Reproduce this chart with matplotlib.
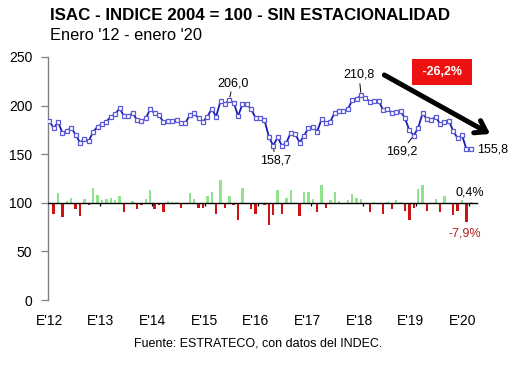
import numpy as np
import matplotlib
matplotlib.use("Agg")
import matplotlib.pyplot as plt

plt.rcParams['font.family'] = ['Liberation Sans', 'DejaVu Sans']

# ISAC index (2004=100), seasonally adjusted, Jan 2012 - Jan 2020 (monthly)
isac = [184.3, 176.7, 183.0, 172.0, 174.0, 177.4, 170.0, 162.0, 165.4, 163.7, 173.0, 178.4,
        180.8, 183.5, 188.7, 191.0, 197.3, 189.4, 189.4, 192.0, 185.3, 184.0, 187.0, 196.6,
        192.0, 190.0, 183.0, 184.3, 184.5, 185.3, 182.0, 182.0, 190.4, 192.0, 187.0, 183.6,
        188.7, 196.6, 188.7, 204.8, 201.4, 206.0, 203.0, 189.4, 201.4, 201.4, 196.3, 187.0,
        187.0, 185.3, 168.0, 158.7, 167.5, 158.5, 162.0, 172.0, 171.0, 162.0, 168.8, 176.7,
        178.4, 173.3, 186.0, 182.5, 183.5, 192.8, 194.9, 194.9, 196.3, 205.9, 207.0, 210.8,
        208.0, 204.0, 205.0, 205.0, 195.6, 197.0, 192.0, 193.5, 194.0, 187.0, 174.5, 169.2,
        177.0, 192.0, 186.0, 185.2, 188.6, 181.0, 183.5, 184.5, 173.5, 166.5, 169.3, 155.2,
        155.8]

# Monthly % change (bars, drawn around the 100 line)
var_pct = [np.nan, -4.8, 4.1, -5.8, 0.7, 1.8, -2.7, -5.5, 1.6, -1.1, 5.9, 3.3,
           1.0, 1.6, 2.0, 1.3, 2.7, -3.7, 0.1, 0.8, -2.7, -1.0, 1.4, 5.2,
           -2.5, -1.0, -3.8, 0.7, 0.2, 0.5, -2.0, 0.1, 4.1, 1.4, -2.0, -2.0,
           3.0, 4.5, -4.8, 9.2, -2.0, 2.7, -1.1, -7.1, 6.2, 0.1, -2.5, -4.8,
           -0.3, -0.7, -9.2, -5.1, 5.2, -4.5, 2.0, 5.2, -0.2, -5.3, 4.4, 4.4,
           1.4, -3.7, 7.3, -2.3, 1.1, 4.4, 0.8, 0.1, 1.2, 3.8, 2.0, 1.4,
           -0.3, -3.7, 0.4, 0.1, -4.5, 0.5, -2.5, 1.0, 0.3, -3.4, -7.1, -2.0,
           5.8, 7.3, -3.4, -0.2, 1.4, -3.7, 3.0, 0.1, -5.0, -3.4, 1.0, -7.9,
           0.4]

year_labels = ["E'12", "E'13", "E'14", "E'15", "E'16", "E'17", "E'18", "E'19", "E'20"]
y_ticks = [0, 50, 100, 150, 200, 250]

BAR_SCALE = 2.5
BASE = 100

x = np.arange(len(isac))
pct = np.array(var_pct, dtype=float)

fig = plt.figure(figsize=(5.30, 3.82), dpi=100)
ax = fig.add_axes([47.5 / 530, 82 / 382, 447.5 / 530, 243 / 382])

# bars
bar_h = pct * BAR_SCALE
colors = ['#8fe38f' if v >= 0 else '#cc1414' for v in np.nan_to_num(pct)]
ax.bar(x, np.nan_to_num(bar_h), bottom=BASE, width=0.55, color=colors, zorder=2)
ax.plot([-0.4, 97.4], [BASE, BASE], color='black', lw=1.0, zorder=3)
ax.vlines(np.arange(11.5, 96, 12), BASE - 3.5, BASE, color='black', lw=0.9, zorder=3)

# line
ax.plot(x, isac, color='#1c1cb0', lw=1.3, marker='s', ms=3.4,
        mfc='white', mec='#5a5ad8', mew=0.9, zorder=4)

ax.set_xlim(-0.4, 101.5)
ax.set_ylim(0, 250)
ax.set_yticks(y_ticks)
ax.set_yticklabels([str(v) for v in y_ticks], fontsize=10)
ax.tick_params(axis='y', direction='out', length=5, width=0.9, color='#808080', pad=6)
ax.set_xticks(np.arange(len(year_labels)) * 11.76)
ax.set_xticklabels(year_labels, fontsize=10)
ax.tick_params(axis='x', length=0, pad=10)
for s in ['top', 'right', 'bottom']:
    ax.spines[s].set_visible(False)
ax.spines['left'].set_color('#808080')
ax.spines['left'].set_linewidth(1.0)

lbl = dict(fontsize=9, textcoords='offset points',
           arrowprops=dict(arrowstyle='-', color='black', lw=0.7, shrinkA=0, shrinkB=2))
ax.annotate('206,0', xy=(41, isac[41]), xytext=(2.5, 12), ha='center', va='center', **lbl)
ax.annotate('158,7', xy=(51, isac[51]), xytext=(1.5, -10.5), ha='center', va='center', **lbl)
ax.annotate('210,8', xy=(71, isac[71]), xytext=(-1.5, 14.5), ha='center', va='center', **lbl)
ax.annotate('169,2', xy=(83, isac[83]), xytext=(-9, -11.5), ha='center', va='center', **lbl)
ax.annotate('155,8', xy=(96, isac[96]), xytext=(4.5, -0.5), ha='left', va='center',
            fontsize=9, textcoords='offset points')

ax.text(92.4, 110.4, '0,4%', fontsize=9, ha='left', va='center', color='black')
ax.text(94.7, 68.9, '-7,9%', fontsize=9, ha='center', va='center', color='#b02020')

ax.text(89.4, 234.6, ' -26,2% ', fontsize=9, fontweight='bold', color='white',
        ha='center', va='center',
        bbox=dict(boxstyle='square,pad=0.55', fc='#ee1111', ec='none'))
ax.annotate('', xy=(100.4, 170.8), xytext=(76.3, 231.5),
            arrowprops=dict(arrowstyle='->,head_length=0.75,head_width=0.5',
                            lw=3.6, color='black', shrinkA=0, shrinkB=0),
            annotation_clip=False)

fig.text(50 / 530, 1 - 16 / 382, 'ISAC - INDICE 2004 = 100 - SIN ESTACIONALIDAD',
         fontsize=12.2, fontweight='bold', ha='left', va='center')
fig.text(50 / 530, 1 - 36 / 382, "Enero '12 - enero '20", fontsize=11.8,
         ha='left', va='center')
fig.text(258 / 530, 1 - 343 / 382, 'Fuente: ESTRATECO, con datos del INDEC.',
         fontsize=9, ha='center', va='center')

fig.savefig('out.png', dpi=100)
